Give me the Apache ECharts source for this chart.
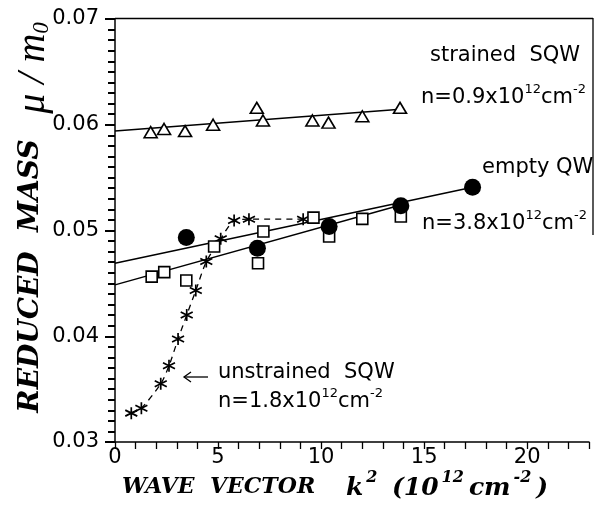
<!DOCTYPE html>
<html><head><meta charset="utf-8">
<script src="https://cdn.jsdelivr.net/npm/echarts@6/dist/echarts.min.js"></script>
<style>html,body{margin:0;padding:0;background:#fff}#c{width:595px;height:507px}</style>
</head><body><div id="c"></div>
<script>
// ---- data ----
const strainedK2   = [1.73, 2.38, 3.40, 4.76, 6.88, 7.18, 9.58, 10.36, 12.0, 13.83];
const strainedMass = [0.0593, 0.0596, 0.0594, 0.0600, 0.0616, 0.0604, 0.0604, 0.0602, 0.0608, 0.0616];
const strainedFitK2   = [0, 13.85];
const strainedFitMass = [0.0594, 0.06147];

const emptyK2   = [3.46, 6.91, 10.39, 13.87, 17.35];
const emptyMass = [0.04933, 0.04833, 0.05037, 0.05235, 0.05409];

const denseK2   = [1.78, 2.39, 3.46, 4.81, 6.94, 7.20, 9.63, 10.39, 12.0, 13.87];
const denseMass = [0.04564, 0.04606, 0.04527, 0.04848, 0.0469, 0.0499, 0.05122, 0.04943, 0.0511, 0.05132];

const fitUpperK2   = [0, 17.35];
const fitUpperMass = [0.04691, 0.05409];
const fitLowerK2   = [0, 13.87];
const fitLowerMass = [0.04486, 0.05242];

const unstrainedK2   = [0.79, 1.28, 2.22, 2.62, 3.06, 3.48, 3.92, 4.43, 5.13, 5.78, 6.5, 9.13];
const unstrainedMass = [0.03273, 0.0332, 0.0355, 0.0372, 0.03973, 0.0420, 0.04432, 0.04706, 0.04921, 0.05094, 0.05107, 0.05107];

const xTickLabels = ['0', '5', '10', '15', '20'];
const yTickLabels = ['0.03', '0.04', '0.05', '0.06', '0.07'];

const pts = (xs, ys) => xs.map((x, i) => [x, ys[i]]);

const SANS = 'DejaVu Sans';
const SERIF = 'DejaVu Serif';
const supRich = {
  a: { fontSize: 21, fontFamily: SANS, fill: '#000', padding: [4, 0, 0, 0], verticalAlign: 'bottom' },
  s: { fontSize: 13, fontFamily: SANS, fill: '#000', verticalAlign: 'top' }
};
const lab = (x, y, t) => ({ type: 'text', x: x, y: y, style: { text: t, rich: supRich, verticalAlign: 'middle', align: 'left' } });
const bi = { fontFamily: SERIF, fontStyle: 'italic', fontWeight: 'bold', fill: '#000' };
const xtRich = {
  a: Object.assign({ fontSize: 25, padding: [6, 0, 0, 0], verticalAlign: 'bottom' }, bi),
  b: Object.assign({ fontSize: 25, padding: [6, 0, 0, 5], verticalAlign: 'bottom' }, bi),
  s: Object.assign({ fontSize: 16, padding: [0, 0, 0, 3], verticalAlign: 'top' }, bi),
  t: Object.assign({ fontSize: 16, padding: [0, 0, 0, 3], verticalAlign: 'top' }, bi),
  c: Object.assign({ fontSize: 25, padding: [6, 0, 0, 5], verticalAlign: 'bottom' }, bi)
};
const starPath = 'path://M5,0 L5,10 M0.67,2.5 L9.33,7.5 M0.67,7.5 L9.33,2.5';
const isTick = (v, labels) => labels.some(l => Math.abs(parseFloat(l) - v) < 1e-7);

const chart = echarts.init(document.getElementById('c'), null, { renderer: 'canvas' });
chart.setOption({
  animation: false,
  backgroundColor: '#fff',
  grid: { left: 115, right: 6, top: 19, bottom: 65, containLabel: false },
  xAxis: {
    type: 'value', min: 0, max: 23, interval: 1,
    axisLine: { show: true, onZero: false, lineStyle: { color: '#000', width: 1.5 } },
    axisTick: { show: true, length: 7, lineStyle: { color: '#000', width: 1.3 } },
    axisLabel: { margin: 5, fontSize: 21, fontFamily: SANS, color: '#000',
      formatter: v => isTick(v, xTickLabels) ? String(Math.round(v)) : '' },
    splitLine: { show: false }
  },
  yAxis: {
    type: 'value', min: 0.03, max: 0.07, interval: 0.01,
    axisLine: { show: true, onZero: false, lineStyle: { color: '#000', width: 1.5 } },
    axisTick: { show: true, length: 10, lineStyle: { color: '#000', width: 2 } },
    minorTick: { show: true, splitNumber: 10, length: 7, lineStyle: { color: '#000', width: 2 } },
    axisLabel: { margin: 16, fontSize: 21, fontFamily: SANS, color: '#000',
      formatter: v => isTick(v, yTickLabels) ? v.toFixed(2) : '' },
    splitLine: { show: false }, minorSplitLine: { show: false }
  },
  series: [
    { type: 'line', data: pts(strainedFitK2, strainedFitMass), showSymbol: false, z: 2,
      lineStyle: { color: '#000', width: 1.5 } },
    { type: 'line', data: pts(fitUpperK2, fitUpperMass), showSymbol: false, z: 2,
      lineStyle: { color: '#000', width: 1.5 } },
    { type: 'line', data: pts(fitLowerK2, fitLowerMass), showSymbol: false, z: 2,
      lineStyle: { color: '#000', width: 1.5 } },
    { type: 'line', data: pts(unstrainedK2, unstrainedMass), smooth: 0.25, z: 3,
      symbol: starPath, symbolSize: 12, showSymbol: true,
      lineStyle: { color: '#000', width: 1.3, type: [6, 5] },
      itemStyle: { color: '#000', borderColor: '#000', borderWidth: 1.7, opacity: 1 } },
    { type: 'scatter', data: pts(strainedK2, strainedMass), symbol: 'triangle', symbolSize: [13, 11], z: 4,
      itemStyle: { color: '#fff', borderColor: '#000', borderWidth: 1.6, opacity: 1 } },
    { type: 'scatter', data: pts(denseK2, denseMass), symbol: 'rect', symbolSize: 11, z: 4,
      itemStyle: { color: '#fff', borderColor: '#000', borderWidth: 1.6, opacity: 1 } },
    { type: 'scatter', data: pts(emptyK2, emptyMass), symbol: 'circle', symbolSize: 17, z: 5,
      itemStyle: { color: '#000', opacity: 1 } }
  ],
  graphic: [
    { type: 'line', shape: { x1: 115, y1: 18.5, x2: 593, y2: 18.5 }, style: { stroke: '#000', lineWidth: 1.3 } },
    { type: 'line', shape: { x1: 593, y1: 18, x2: 593, y2: 235 }, style: { stroke: '#000', lineWidth: 1.3 } },
    { type: 'text', x: 430, y: 56, style: { text: 'strained  SQW', fontSize: 21, fontFamily: SANS, fill: '#000', verticalAlign: 'middle' } },
    lab(421, 96, '{a|n=0.9x10}{s|12}{a|cm}{s|-2}'),
    { type: 'text', x: 482, y: 168, style: { text: 'empty QW', fontSize: 21, fontFamily: SANS, fill: '#000', verticalAlign: 'middle' } },
    lab(422, 222, '{a|n=3.8x10}{s|12}{a|cm}{s|-2}'),
    { type: 'text', x: 218, y: 373, style: { text: 'unstrained  SQW', fontSize: 21, fontFamily: SANS, fill: '#000', verticalAlign: 'middle' } },
    lab(218, 400, '{a|n=1.8x10}{s|12}{a|cm}{s|-2}'),
    { type: 'line', shape: { x1: 184, y1: 377, x2: 208, y2: 377 }, style: { stroke: '#000', lineWidth: 1.3 } },
    { type: 'polyline', shape: { points: [[191, 372], [184, 377], [191, 382]] }, style: { stroke: '#000', fill: null, lineWidth: 1.3 } },
    { type: 'text', x: 122, y: 487, style: Object.assign({ text: 'WAVE', fontSize: 22, verticalAlign: 'middle' }, bi) },
    { type: 'text', x: 210, y: 487, style: Object.assign({ text: 'VECTOR', fontSize: 22, verticalAlign: 'middle' }, bi) },
    { type: 'text', x: 346, y: 485, style: { text: '{a|k}{s|2}', rich: xtRich, verticalAlign: 'middle' } },
    { type: 'text', x: 392, y: 485, style: { text: '{a|(10}{s|12}{b|cm}{t|-2}{c|)}', rich: xtRich, verticalAlign: 'middle' } },
    { type: 'text', x: 31, y: 276, rotation: Math.PI / 2, style: Object.assign({ text: 'REDUCED  MASS', fontSize: 28, align: 'center', verticalAlign: 'middle' }, bi) },
    { type: 'text', x: 33, y: 68, rotation: Math.PI / 2, style: { text: '{m|μ / m}{s|0}', align: 'center', verticalAlign: 'middle',
        rich: { m: { fontSize: 40, fontFamily: 'Liberation Serif', fontStyle: 'italic', fill: '#000', verticalAlign: 'top', lineHeight: 40 },
                s: { fontSize: 23, fontFamily: 'Liberation Serif', fontStyle: 'italic', fill: '#000', verticalAlign: 'bottom', lineHeight: 23 } } } }
  ]
});
</script>
</body></html>
